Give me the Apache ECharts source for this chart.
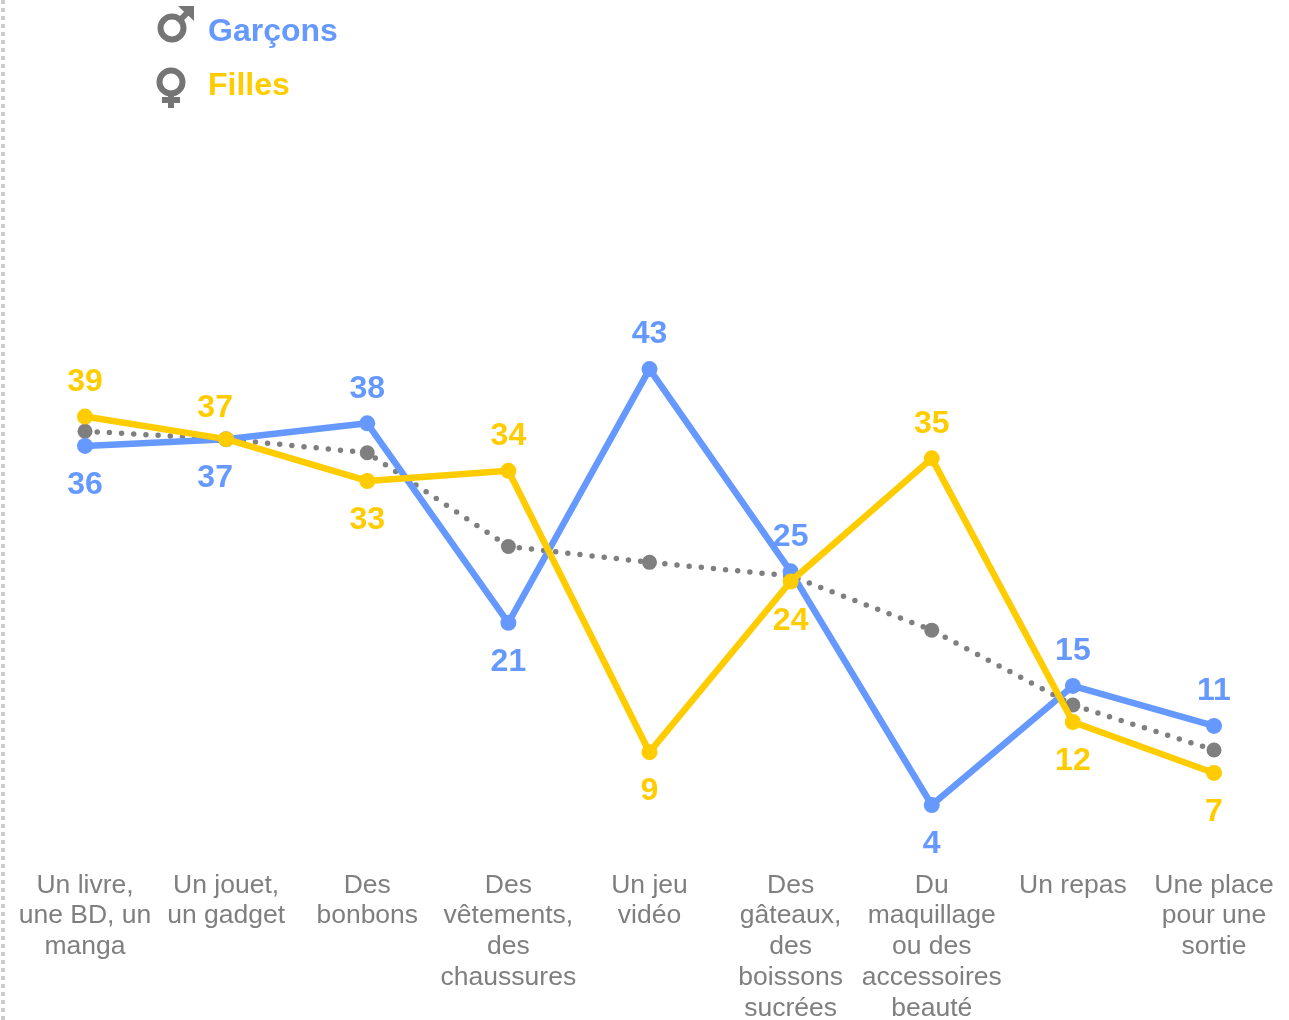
<!DOCTYPE html>
<html>
<head>
<meta charset="utf-8">
<style>
html, body { margin: 0; padding: 0; background: #fff; }
#chart { width: 1289px; height: 1020px; }
</style>
<script src="https://cdn.jsdelivr.net/npm/echarts@6/dist/echarts.min.js"></script>
</head>
<body>
<div id="chart"></div>
<script>
var categories = [
    'Un livre,\nune BD, un\nmanga',
    'Un jouet,\nun gadget',
    'Des\nbonbons',
    'Des\nvêtements,\ndes\nchaussures',
    'Un jeu\nvidéo',
    'Des\ngâteaux,\ndes\nboissons\nsucrées',
    'Du\nmaquillage\nou des\naccessoires\nbeauté',
    'Un repas',
    'Une place\npour une\nsortie'
];
// labels are rounded in the picture, the points sit on the unrounded values
var garcons = [36.2, 36.8, 38.2, 20.55, 43, 25.1, 4.42, 14.96, 11.42];
var filles = [38.8, 36.8, 33.1, 34, 9.1, 24.2, 35.1, 11.77, 7.26];
var moyenne = [37.5, 36.8, 35.6, 27.3, 25.9, 24.7, 19.9, 13.27, 9.29];

var BLUE = '#6699ff', GOLD = '#ffcc00', GREY = '#7f7f7f', SIGN = '#757575';
var FONT = '"Liberation Sans", Arial, sans-serif';

// the label goes above on the higher line and below on the lower one
function points(values, others, winsTie) {
    return values.map(function (v, i) {
        var above = v > others[i] || (v === others[i] && winsTie);
        return {
            value: v,
            label: {
                position: above ? 'top' : 'bottom',
                distance: above ? 10.5 : 15.5,
                offset: i === 1 ? [-11, above ? 4 : 0] : [0, 0]
            }
        };
    });
}

function mainSeries(name, color, values, others, winsTie, z) {
    return {
        name: name,
        type: 'line',
        z: z,
        data: points(values, others, winsTie),
        symbol: 'circle',
        symbolSize: 16,
        itemStyle: {color: color},
        lineStyle: {color: color, width: 6.5},
        label: {
            show: true,
            color: color,
            fontFamily: FONT,
            fontWeight: 'bold',
            fontSize: 32,
            formatter: function (p) {
                return Math.round(p.value);
            }
        }
    };
}

function ink(shape, type) {
    return {
        type: type || 'line',
        shape: shape,
        style: {stroke: SIGN, lineWidth: 6, fill: null}
    };
}

var option = {
    animation: false,
    backgroundColor: '#fff',
    // v6 shrinks the grid to keep the axis labels inside otherwise
    grid: {left: 85, right: 75, top: 290, bottom: 165, outerBoundsMode: 'none'},
    legend: {
        left: 198,
        top: 11,
        orient: 'vertical',
        itemGap: 22,
        icon: 'none',
        itemWidth: 0,
        selectedMode: false,
        textStyle: {fontFamily: FONT, fontWeight: 'bold', fontSize: 32},
        data: [
            {name: 'Garçons', textStyle: {color: BLUE}},
            {name: 'Filles', textStyle: {color: GOLD}}
        ]
    },
    xAxis: {
        type: 'category',
        data: categories,
        boundaryGap: false,
        axisLine: {show: false},
        axisTick: {show: false},
        splitLine: {show: false},
        axisLabel: {
            interval: 0,
            hideOverlap: false,
            margin: 15,
            color: GREY,
            fontFamily: FONT,
            fontSize: 26.5,
            lineHeight: 30.75,
            verticalAlign: 'top'
        }
    },
    yAxis: {type: 'value', min: 0, max: 50, show: false},
    series: [
        {
            name: 'Moyenne',
            type: 'line',
            z: 2,
            data: moyenne,
            symbol: 'circle',
            symbolSize: 15,
            itemStyle: {color: GREY},
            lineStyle: {color: GREY, width: 5.5, type: [0, 12.2], cap: 'round'}
        },
        mainSeries('Garçons', BLUE, garcons, filles, false, 3),
        mainSeries('Filles', GOLD, filles, garcons, true, 4)
    ],
    graphic: [
        // dotted rule on the left edge
        {
            type: 'line',
            shape: {x1: 3, y1: 0, x2: 3, y2: 1020},
            style: {stroke: '#cccccc', lineWidth: 4, lineDash: [4, 4]}
        },
        // male sign
        ink({cx: 172, cy: 28, r: 11.5}, 'circle'),
        ink({x1: 181, y1: 19, x2: 190, y2: 10}),
        {type: 'polygon', shape: {points: [[178, 6], [194, 6], [194, 21]]}, style: {fill: SIGN}},
        // female sign
        ink({cx: 171, cy: 82, r: 11.5}, 'circle'),
        ink({x1: 171, y1: 93, x2: 171, y2: 108}),
        ink({x1: 162, y1: 100, x2: 180, y2: 100})
    ]
};

var myChart = echarts.init(document.getElementById('chart'));
myChart.setOption(option);
</script>
</body>
</html>
